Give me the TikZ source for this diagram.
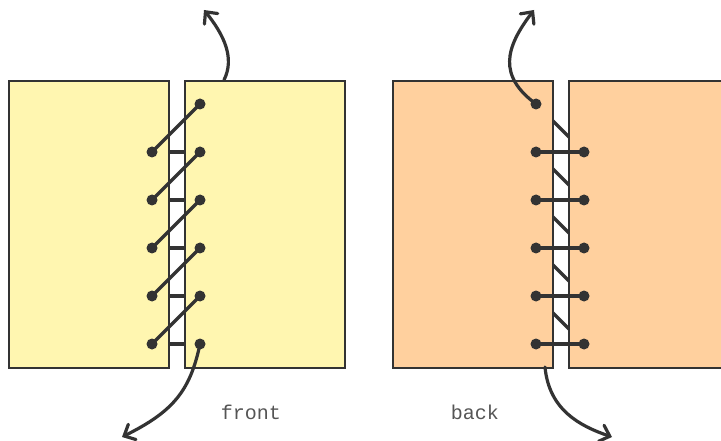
\documentclass[tikz,border=0pt]{standalone}
\usepackage{fontspec}
\setmonofont{Liberation Mono}
\usetikzlibrary{arrows.meta}
\definecolor{ink}{HTML}{333333}
\definecolor{pale}{HTML}{FFF6B0}
\definecolor{peach}{HTML}{FFD09E}
\definecolor{txt}{HTML}{555555}
\tikzset{
  sheet/.style={draw=ink, line width=2pt, anchor=north west, inner sep=0pt, minimum width=160pt, minimum height=287pt},
  thread/.style={draw=ink, line width=3.2pt},
  knot/.style={circle, fill=ink, inner sep=0pt, minimum size=11pt},
  pull/.style={draw=ink, line width=3.2pt, line cap=round, -{Straight Barb[length=9pt,width=17pt,line cap=round]}},
  lbl/.style={font=\ttfamily\fontsize{20}{22}\selectfont, text=txt}
}
\begin{document}
\begin{tikzpicture}[x=1pt,y=-1pt]
\useasboundingbox (0,0) rectangle (721,441);
\clip (0,0) rectangle (721,441);
% ---------- front ----------
\foreach \i/\y in {1/152,2/200,3/248,4/296,5/344}{
  \coordinate (fl\i) at (152,\y);
}
\foreach \i/\y in {0/104,1/152,2/200,3/248,4/296,5/344}{
  \coordinate (fr\i) at (200,\y);
}
% hidden straight stitches (seen in the gap)
\foreach \i in {1,...,5}{ \draw[thread] (fl\i) -- (fr\i); }
\node[sheet, fill=pale] (fA) at (8,80) {};
\node[sheet, fill=pale] (fB) at (184,80) {};
% diagonal stitches on top
\draw[thread] (fl1) -- (fr0);
\draw[thread] (fl2) -- (fr1);
\draw[thread] (fl3) -- (fr2);
\draw[thread] (fl4) -- (fr3);
\draw[thread] (fl5) -- (fr4);
\foreach \i in {1,...,5}{ \node[knot] (kfl\i) at (fl\i) {}; }
\foreach \i in {0,...,5}{ \node[knot] (kfr\i) at (fr\i) {}; }
\coordinate (ftop) at (224,80);
\coordinate (ftopend) at (204,10);
\coordinate (fbotend) at (122,437);
\draw[pull] (ftop) .. controls (235,58) and (224,35) .. (ftopend);
\draw[pull] (kfr5.center) .. controls (190,392) and (172,412) .. (fbotend);
\node[lbl] (front) at (251,412) {front};
% ---------- back ----------
\foreach \i/\y in {0/104,1/152,2/200,3/248,4/296,5/344}{
  \coordinate (bl\i) at (536,\y);
}
\foreach \i/\y in {1/152,2/200,3/248,4/296,5/344}{
  \coordinate (br\i) at (584,\y);
}
% hidden diagonal stitches (seen in the gap)
\draw[thread] (bl0) -- (br1);
\draw[thread] (bl1) -- (br2);
\draw[thread] (bl2) -- (br3);
\draw[thread] (bl3) -- (br4);
\draw[thread] (bl4) -- (br5);
\node[sheet, fill=peach] (bA) at (392,80) {};
\node[sheet, fill=peach] (bB) at (568,80) {};
\foreach \i in {1,...,5}{ \draw[thread] (bl\i) -- (br\i); }
\foreach \i in {0,...,5}{ \node[knot] (kbl\i) at (bl\i) {}; }
\foreach \i in {1,...,5}{ \node[knot] (kbr\i) at (br\i) {}; }
\coordinate (btopend) at (534,10);
\coordinate (bbot) at (545,367);
\coordinate (bbotend) at (612,437);
\draw[pull] (kbl0.center) .. controls (498,76) and (505,48) .. (btopend);
\draw[pull] (bbot) .. controls (549,410) and (580,426) .. (bbotend);
\node[lbl] (back) at (475,412) {back};
\end{tikzpicture}
\end{document}
